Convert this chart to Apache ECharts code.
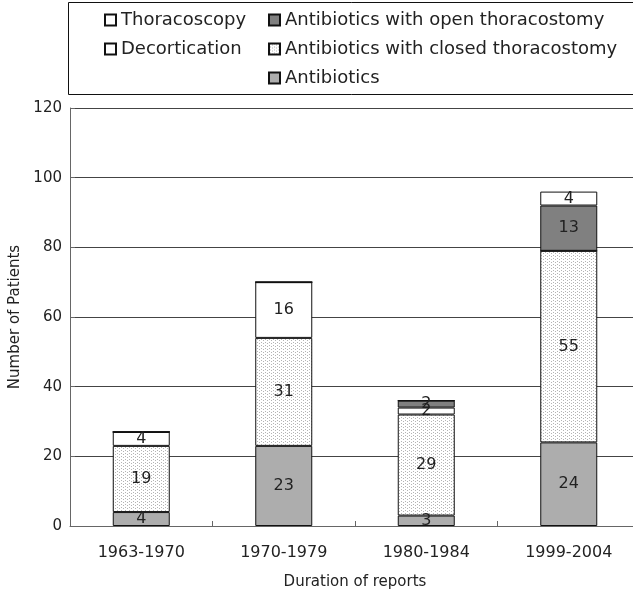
<!DOCTYPE html>
<html>
<head>
<meta charset="utf-8">
<script src="https://cdn.jsdelivr.net/npm/echarts@6/dist/echarts.min.js"></script>
<style>
  html, body { margin: 0; padding: 0; background: #fff; }
  #chart { width: 633px; height: 597px; }
</style>
</head>
<body>
<div id="chart"></div>
<script>
// data
var periods = ["1963-1970", "1970-1979", "1980-1984", "1999-2004"];
var antibiotics = [4, 23, 3, 24];
var closedThoracostomy = [19, 31, 29, 55];
var decortication = [4, 16, 2, 0];
var openThoracostomy = [0, 0, 2, 13];
var thoracoscopy = [0, 0, 0, 4];
var yTicks = [0, 20, 40, 60, 80, 100, 120];

var font = '"DejaVu Sans", "Liberation Sans", sans-serif';
var ink = "#222222";

// dotted fill for the closed thoracostomy segments
function dotPattern() {
  var c = document.createElement("canvas");
  c.width = 4; c.height = 3;
  var g = c.getContext("2d");
  g.fillStyle = "#ffffff";
  g.fillRect(0, 0, 4, 3);
  g.fillStyle = "#b4b4b4";
  g.fillRect(1, 0, 1, 1);
  g.fillRect(3, 1, 1, 1);
  return { image: c, repeat: "repeat" };
}

function seg(name, values, fill) {
  return {
    name: name,
    type: "bar",
    stack: "total",
    barWidth: 57,
    data: values,
    itemStyle: { color: fill, borderColor: "#111", borderWidth: 1 },
    label: {
      show: true,
      position: "inside",
      color: ink,
      fontFamily: font,
      fontSize: 16,
      formatter: function (p) { return p.value ? String(p.value) : ""; }
    }
  };
}

var legendText = { fontSize: 18, color: ink, fontFamily: font };

var chart = echarts.init(document.getElementById("chart"), null, { renderer: "canvas" });

chart.setOption({
  animation: false,
  backgroundColor: "#ffffff",
  textStyle: { fontFamily: font },
  graphic: [{
    type: "rect",
    shape: { x: 68.5, y: 2.5, width: 600, height: 92 },
    style: { fill: "none", stroke: "#111", lineWidth: 1 }
  }],
  legend: [{
    left: 99, top: 6,
    orient: "vertical",
    icon: "rect", itemWidth: 11, itemHeight: 11, itemGap: 11,
    textStyle: legendText,
    data: ["Thoracoscopy", "Decortication"]
  }, {
    left: 263, top: 6,
    orient: "vertical",
    icon: "rect", itemWidth: 11, itemHeight: 11, itemGap: 11,
    textStyle: legendText,
    data: ["Antibiotics with open thoracostomy", "Antibiotics with closed thoracostomy", "Antibiotics"]
  }],
  grid: { left: 70, right: -7, top: 108, bottom: 71, containLabel: false, outerBoundsMode: "none" },
  xAxis: {
    type: "category",
    data: periods,
    name: "Duration of reports",
    nameLocation: "middle",
    nameGap: 49,
    nameTextStyle: { fontSize: 15, color: ink, fontFamily: font },
    axisLine: { lineStyle: { color: "#666", width: 1 } },
    axisTick: { show: true, inside: true, length: 5, lineStyle: { color: "#666" } },
    axisLabel: { fontSize: 16, color: ink, margin: 19, fontFamily: font }
  },
  yAxis: {
    type: "value",
    min: yTicks[0],
    max: yTicks[yTicks.length - 1],
    interval: 20,
    name: "Number of Patients",
    nameLocation: "middle",
    nameGap: 46,
    nameTextStyle: { fontSize: 15, color: ink, fontFamily: font },
    axisLine: { show: true, lineStyle: { color: "#666", width: 1 } },
    axisTick: { show: true, inside: true, length: 5, lineStyle: { color: "#666" } },
    axisLabel: { fontSize: 15, color: ink, margin: 8, fontFamily: font },
    splitLine: { show: true, lineStyle: { color: "#444", width: 1 } }
  },
  series: [
    seg("Antibiotics", antibiotics, "#adadad"),
    seg("Antibiotics with closed thoracostomy", closedThoracostomy, dotPattern()),
    seg("Decortication", decortication, "#ffffff"),
    seg("Antibiotics with open thoracostomy", openThoracostomy, "#808080"),
    seg("Thoracoscopy", thoracoscopy, "#ffffff")
  ]
});
</script>
</body>
</html>
